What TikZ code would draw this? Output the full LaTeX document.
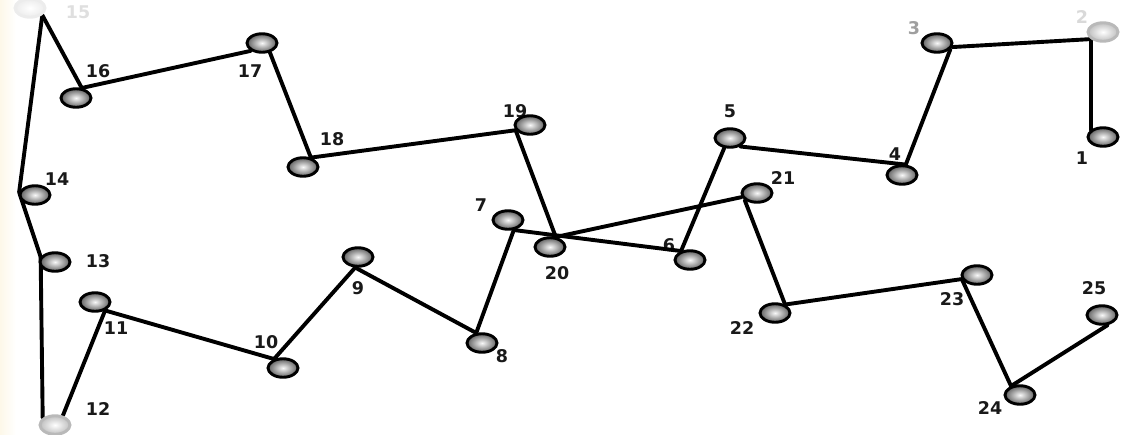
\documentclass[tikz,border=0pt]{standalone}
\usepackage{fontspec}
\setmainfont{DejaVu Sans}
\usetikzlibrary{shapes.geometric}
\pgfdeclarelayer{bg}
\pgfsetlayers{bg,main}
\definecolor{paper}{RGB}{253,248,233}

\begin{document}
\begin{tikzpicture}[x=1pt,y=-1pt,
  bead/.style={ellipse, draw=black, line width=2.9pt, minimum width=30pt,
    minimum height=18.5pt, inner sep=0pt, inner color=gray!5, outer color=black!62},
  ghost/.style={bead, draw=gray!55, inner color=white, outer color=gray!50},
  faint/.style={bead, draw=gray!15, inner color=white, outer color=gray!15},
  link/.style={line width=3.9pt, line cap=round, black},
  num/.style={font=\fontsize{17.5}{19}\selectfont\bfseries, text=black!90, inner sep=0pt}]

\useasboundingbox (0,0) rectangle (1126,434);

% beads of the chain
\node[bead]  (n1)  at (1103,137) {};
\node[ghost] (n2)  at (1103,32)  {};
\node[bead]  (n3)  at (937,43)   {};
\node[bead]  (n4)  at (902,175)  {};
\node[bead]  (n5)  at (730,138)  {};
\node[bead]  (n6)  at (690,260)  {};
\node[bead]  (n7)  at (508,220)  {};
\node[bead]  (n8)  at (482,343)  {};
\node[bead]  (n9)  at (358,257)  {};
\node[bead]  (n10) at (283,368)  {};
\node[bead]  (n11) at (95,302)   {};
\node[ghost] (n12) at (55,425)   {};
\node[bead]  (n13) at (55,262)   {};
\node[bead]  (n14) at (35,195)   {};
\node[faint] (n15) at (30,8)     {};
\node[bead]  (n16) at (76,98)    {};
\node[bead]  (n17) at (262,43)   {};
\node[bead]  (n18) at (303,167)  {};
\node[bead]  (n19) at (530,125)  {};
\node[bead]  (n20) at (550,247)  {};
\node[bead]  (n21) at (757,193)  {};
\node[bead]  (n22) at (775,313)  {};
\node[bead]  (n23) at (977,275)  {};
\node[bead]  (n24) at (1020,395) {};
\node[bead]  (n25) at (1102,315) {};

\begin{pgfonlayer}{bg}
  \shade[left color=paper, right color=white] (0,0) rectangle (16,434);

  % bead numbers
  \node[num] (l1)  at (1082,158) {1};
  \node[num, text=gray!30] (l2) at (1082,17) {2};
  \node[num, text=gray!75] (l3) at (914,28) {3};
  \node[num] (l4)  at (895,154) {4};
  \node[num] (l5)  at (730,111) {5};
  \node[num] (l6)  at (669,245) {6};
  \node[num] (l7)  at (481,205) {7};
  \node[num] (l8)  at (502,356) {8};
  \node[num] (l9)  at (358,288) {9};
  \node[num] (l10) at (266,342) {10};
  \node[num] (l11) at (116,328) {11};
  \node[num] (l12) at (98,409)  {12};
  \node[num] (l13) at (98,261)  {13};
  \node[num] (l14) at (57,179)  {14};
  \node[num, text=gray!25] (l15) at (78,12) {15};
  \node[num] (l16) at (98,71)   {16};
  \node[num] (l17) at (250,71)  {17};
  \node[num] (l18) at (332,139) {18};
  \node[num] (l19) at (515,111) {19};
  \node[num] (l20) at (557,273) {20};
  \node[num] (l21) at (783,178) {21};
  \node[num] (l22) at (742,328) {22};
  \node[num] (l23) at (952,299) {23};
  \node[num] (l24) at (990,408) {24};
  \node[num] (l25) at (1094,288) {25};

  % links between consecutive beads
  \draw[link] (n1.150) -- (n2.210);
  \draw[link] (n2.210) -- (n3.345);
  \draw[link] (n3.335) -- (n4.70);
  \draw[link] (n4.70) -- (n5.320);
  \draw[link] (n5.240) -- (n6.135);
  \draw[link] (n6.135) -- (n7.300);
  \draw[link] (n7.300) -- (n8.120);
  \draw[link] (n8.120) -- (n9.255);
  \draw[link] (n9.255) -- (n10.135);
  \draw[link] (n10.135) -- (n11.320);
  \draw[link] (n11.320) -- (n12.50);
  \draw[link] (n12.150) -- (n13.160);
  \draw[link] (n13.160) -- (n14.170);
  \draw[link] (n14.170) -- (n15.330);
  \draw[link] (n15.330) -- (n16.60);
  \draw[link] (n16.60) -- (n17.215);
  \draw[link] (n17.310) -- (n18.50);
  \draw[link] (n18.50) -- (n19.200);
  \draw[link] (n19.200) -- (n20.60);
  \draw[link] (n20.60) -- (n21.195);
  \draw[link] (n21.210) -- (n22.40);
  \draw[link] (n22.40) -- (n23.195);
  \draw[link] (n23.195) -- (n24.135);
  \draw[link] (n24.135) -- (n25.300);
\end{pgfonlayer}
\end{tikzpicture}
\end{document}
